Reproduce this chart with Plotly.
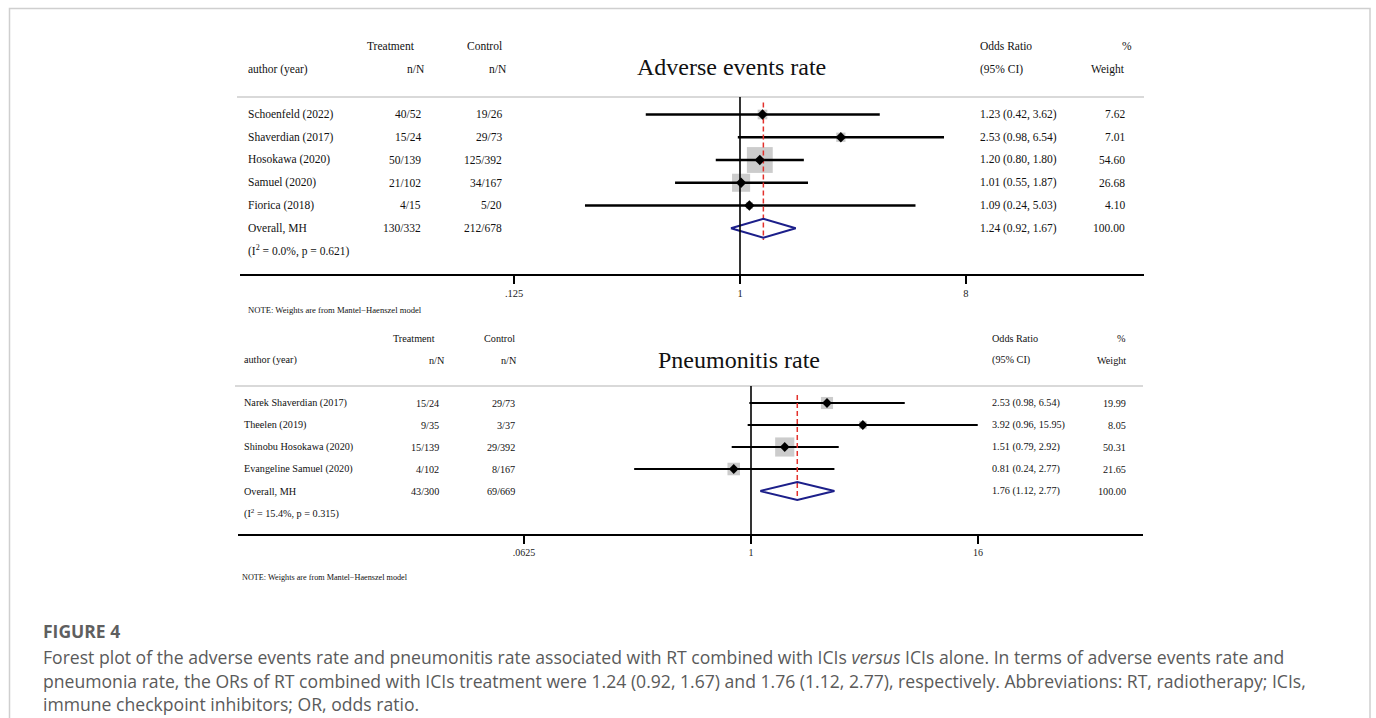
import math
import plotly.graph_objects as go

# ---------------- data ----------------
ae_studies = ["Schoenfeld (2022)", "Shaverdian (2017)", "Hosokawa (2020)", "Samuel (2020)", "Fiorica (2018)"]
ae_treat = ["40/52", "15/24", "50/139", "21/102", "4/15"]
ae_ctrl = ["19/26", "29/73", "125/392", "34/167", "5/20"]
ae_or = [1.23, 2.53, 1.20, 1.01, 1.09]
ae_lo = [0.42, 0.98, 0.80, 0.55, 0.24]
ae_hi = [3.62, 6.54, 1.80, 1.87, 5.03]
ae_w = [7.62, 7.01, 54.60, 26.68, 4.10]
ae_overall = [1.24, 0.92, 1.67]
ae_overall_w = 100.00
ae_overall_n = ["130/332", "212/678"]
ae_het = "(I<sup>2</sup> = 0.0%, p = 0.621)"
ae_ticks = [0.125, 1, 8]
ae_ticktext = [".125", "1", "8"]

pn_studies = ["Narek Shaverdian (2017)", "Theelen (2019)", "Shinobu Hosokawa (2020)", "Evangeline Samuel (2020)"]
pn_treat = ["15/24", "9/35", "15/139", "4/102"]
pn_ctrl = ["29/73", "3/37", "29/392", "8/167"]
pn_or = [2.53, 3.92, 1.51, 0.81]
pn_lo = [0.98, 0.96, 0.79, 0.24]
pn_hi = [6.54, 15.95, 2.92, 2.77]
pn_w = [19.99, 8.05, 50.31, 21.65]
pn_overall = [1.76, 1.12, 2.77]
pn_overall_w = 100.00
pn_overall_n = ["43/300", "69/669"]
pn_het = "(I<sup>2</sup> = 15.4%, p = 0.315)"
pn_ticks = [0.0625, 1, 16]
pn_ticktext = [".0625", "1", "16"]

W, H = 1376, 718
SERIF = "Liberation Serif, Times New Roman, serif"
SANS = "Open Sans, sans-serif"

fig = go.Figure()
annotations = []
shapes = []


def px(x):
    return x / W


def py(y):
    return 1 - y / H


def panel(idx, title, studies, treat, ctrl, orr, lo, hi, w, overall, overall_w, overall_n, het,
          ticks, ticktext, g):
    xa = "x" if idx == 1 else "x%d" % idx
    ya = "y" if idx == 1 else "y%d" % idx
    xkey = "xaxis" if idx == 1 else "xaxis%d" % idx
    ykey = "yaxis" if idx == 1 else "yaxis%d" % idx
    n = len(studies)
    rows = list(range(n))
    orow = n
    l10 = math.log10(2)
    xr = [(g["xl"] - g["x1"]) / g["slope"] * l10, (g["xr"] - g["x1"]) / g["slope"] * l10]
    yr = [(g["yaxis"] - g["row0"]) / g["step"], (g["ysep"] - g["row0"]) / g["step"]]
    fig.layout[xkey] = dict(
        type="log", range=xr, domain=[px(g["xl"]), px(g["xr"])], anchor=ya,
        showline=True, linecolor="black", linewidth=2, ticks="outside", ticklen=8,
        tickwidth=2, tickcolor="black", tickvals=ticks, ticktext=ticktext,
        tickfont=dict(family=SERIF, size=g["tick"], color="#222"), showgrid=False,
        zeroline=False, fixedrange=True)
    fig.layout[ykey] = dict(
        range=yr, domain=[py(g["yaxis"]), py(g["ysep"])], anchor=xa, visible=False,
        showgrid=False, zeroline=False, fixedrange=True)

    shapes.append(dict(type="line", xref="paper", yref="paper", x0=px(g["xl"] - 3), x1=px(g["xr"]),
                       y0=py(g["ysep"]), y1=py(g["ysep"]), line=dict(color="#cccccc", width=1.5)))
    shapes.append(dict(type="line", xref=xa, yref=ya, x0=1, x1=1, y0=yr[1], y1=yr[0],
                       line=dict(color="black", width=1.6)))

    fig.add_trace(go.Scatter(
        x=orr, y=rows, xaxis=xa, yaxis=ya, mode="markers",
        marker=dict(symbol="square", size=[g["k"] * math.sqrt(v) for v in w],
                    color="#b7b7b7", line=dict(width=0)),
        hoverinfo="skip"))
    cx, cy = [], []
    for i in rows:
        cx += [lo[i], hi[i], None]
        cy += [i, i, None]
    fig.add_trace(go.Scatter(x=cx, y=cy, xaxis=xa, yaxis=ya, mode="lines",
                             line=dict(color="black", width=g["ciw"]), hoverinfo="skip"))
    fig.add_trace(go.Scatter(x=[overall[0], overall[0]], y=[g["dash0"], orow + g["dash1"]],
                             xaxis=xa, yaxis=ya, mode="lines",
                             line=dict(color="#e3312c", width=1.5, dash="5px,3px"),
                             hoverinfo="skip"))
    fig.add_trace(go.Scatter(x=orr, y=rows, xaxis=xa, yaxis=ya, mode="markers",
                             marker=dict(symbol="diamond", size=g["pt"], color="black"),
                             hoverinfo="skip"))
    h = g["dh"]
    fig.add_trace(go.Scatter(
        x=[overall[1], overall[0], overall[2], overall[0], overall[1]],
        y=[orow, orow - h, orow, orow + h, orow], xaxis=xa, yaxis=ya, mode="lines",
        line=dict(color="#1c1f8a", width=2), hoverinfo="skip"))

    fs = g["fs"]

    def txt(x, yv, s, anchor, size=fs, yref=ya, color="#111111"):
        annotations.append(dict(x=px(x), y=yv, xref="paper", yref=yref, text=s, showarrow=False,
                                xanchor=anchor, yanchor="middle",
                                font=dict(family=SERIF, size=size, color=color)))

    hy1, hy2 = py(g["h1"]), py(g["h2"])
    txt(g["treat_h"], hy1, "Treatment", "right", yref="paper")
    txt(g["treat_nh"], hy2, "n/N", "right", yref="paper")
    txt(g["ctrl_h"], hy1, "Control", "right", yref="paper")
    txt(g["ctrl_nh"], hy2, "n/N", "right", yref="paper")
    txt(g["lab"], hy2, "author (year)", "left", yref="paper")
    txt(g["orx"], hy1, "Odds Ratio", "left", yref="paper")
    txt(g["orx"], hy2, "(95% CI)", "left", yref="paper")
    txt(g["pct"], hy1, "%", "right", yref="paper")
    txt(g["wx"], hy2, "Weight", "right", yref="paper")
    annotations.append(dict(x=px(g["tx"]), y=py(g["ty"]), xref="paper", yref="paper", text=title,
                            showarrow=False, xanchor="center", yanchor="middle",
                            font=dict(family=SERIF, size=24, color="#111")))
    for i in rows:
        txt(g["lab"], i, studies[i], "left")
        txt(g["treat"], i, treat[i], "right")
        txt(g["ctrl"], i, ctrl[i], "right")
        txt(g["orx"], i, "%.2f (%.2f, %.2f)" % (orr[i], lo[i], hi[i]), "left")
        txt(g["wx"], i, "%.2f" % w[i], "right")
    txt(g["lab"], orow, "Overall, MH", "left")
    txt(g["treat"], orow, overall_n[0], "right")
    txt(g["ctrl"], orow, overall_n[1], "right")
    txt(g["orx"], orow, "%.2f (%.2f, %.2f)" % tuple(overall), "left")
    txt(g["wx"], orow, "%.2f" % overall_w, "right")
    txt(g["lab"], orow + 1, het, "left")
    txt(g["notex"], py(g["notey"]), "NOTE: Weights are from Mantel\u2212Haenszel model", "left",
        size=g["notefs"], yref="paper")


panel(1, "Adverse events rate", ae_studies, ae_treat, ae_ctrl, ae_or, ae_lo, ae_hi, ae_w,
      ae_overall, ae_overall_w, ae_overall_n, ae_het, ae_ticks, ae_ticktext,
      dict(xl=240, xr=1144, x1=740, slope=75.3, ysep=97, yaxis=274, row0=114.5, step=22.75,
           fs=11.5, tick=10.5, k=3.5, pt=8, ciw=2.5, dh=0.42, dash0=-0.53, dash1=0.52,
           lab=246, treat=423, ctrl=504, treat_h=417, treat_nh=427, ctrl_h=504, ctrl_nh=509,
           orx=978, wx=1127, pct=1134, h1=46, h2=69.5, tx=732, ty=67,
           notex=246, notey=310, notefs=8.6))

panel(2, "Pneumonitis rate", pn_studies, pn_treat, pn_ctrl, pn_or, pn_lo, pn_hi, pn_w,
      pn_overall, pn_overall_w, pn_overall_n, pn_het, pn_ticks, pn_ticktext,
      dict(xl=238, xr=1143, x1=751, slope=56.75, ysep=386, yaxis=534, row0=403, step=22,
           fs=10.2, tick=10, k=2.7, pt=7.5, ciw=2.2, dh=0.41, dash0=-0.36, dash1=0.42,
           lab=242, treat=441, ctrl=517, treat_h=437, treat_nh=447, ctrl_h=517, ctrl_nh=519,
           orx=990, wx=1128, pct=1128, h1=338, h2=360, tx=739, ty=360,
           notex=240, notey=577, notefs=8.2))

cap_lines = [
    "Forest plot of the adverse events rate and pneumonitis rate associated with RT combined with ICIs <i>versus</i> ICIs alone. In terms of adverse events rate and",
    "pneumonia rate, the ORs of RT combined with ICIs treatment were 1.24 (0.92, 1.67) and 1.76 (1.12, 2.77), respectively. Abbreviations: RT, radiotherapy; ICIs,",
    "immune checkpoint inhibitors; OR, odds ratio.",
]
annotations.append(dict(x=px(41), y=py(631), xref="paper", yref="paper", text="<b>FIGURE 4</b>",
                        showarrow=False, xanchor="left", yanchor="middle",
                        font=dict(family=SANS, size=17.5, color="#5f5f5f")))
for j, line in enumerate(cap_lines):
    annotations.append(dict(x=px(41), y=py(657 + 23.5 * j), xref="paper", yref="paper", text=line,
                            showarrow=False, xanchor="left", yanchor="middle",
                            font=dict(family=SANS, size=17.6, color="#5a5a5a")))

shapes.append(dict(type="rect", xref="paper", yref="paper", x0=px(9.5), x1=px(1370), y0=-0.1,
                   y1=py(8.5), line=dict(color="#cfcfcf", width=1.5), fillcolor="rgba(0,0,0,0)"))

fig.update_layout(width=W, height=H, margin=dict(l=0, r=0, t=0, b=0), showlegend=False,
                  paper_bgcolor="white", plot_bgcolor="white",
                  annotations=annotations, shapes=shapes)

fig.write_html("out.html", config={"displayModeBar": False},
               post_script="document.body.style.margin='0px';document.body.style.overflow='hidden';")
